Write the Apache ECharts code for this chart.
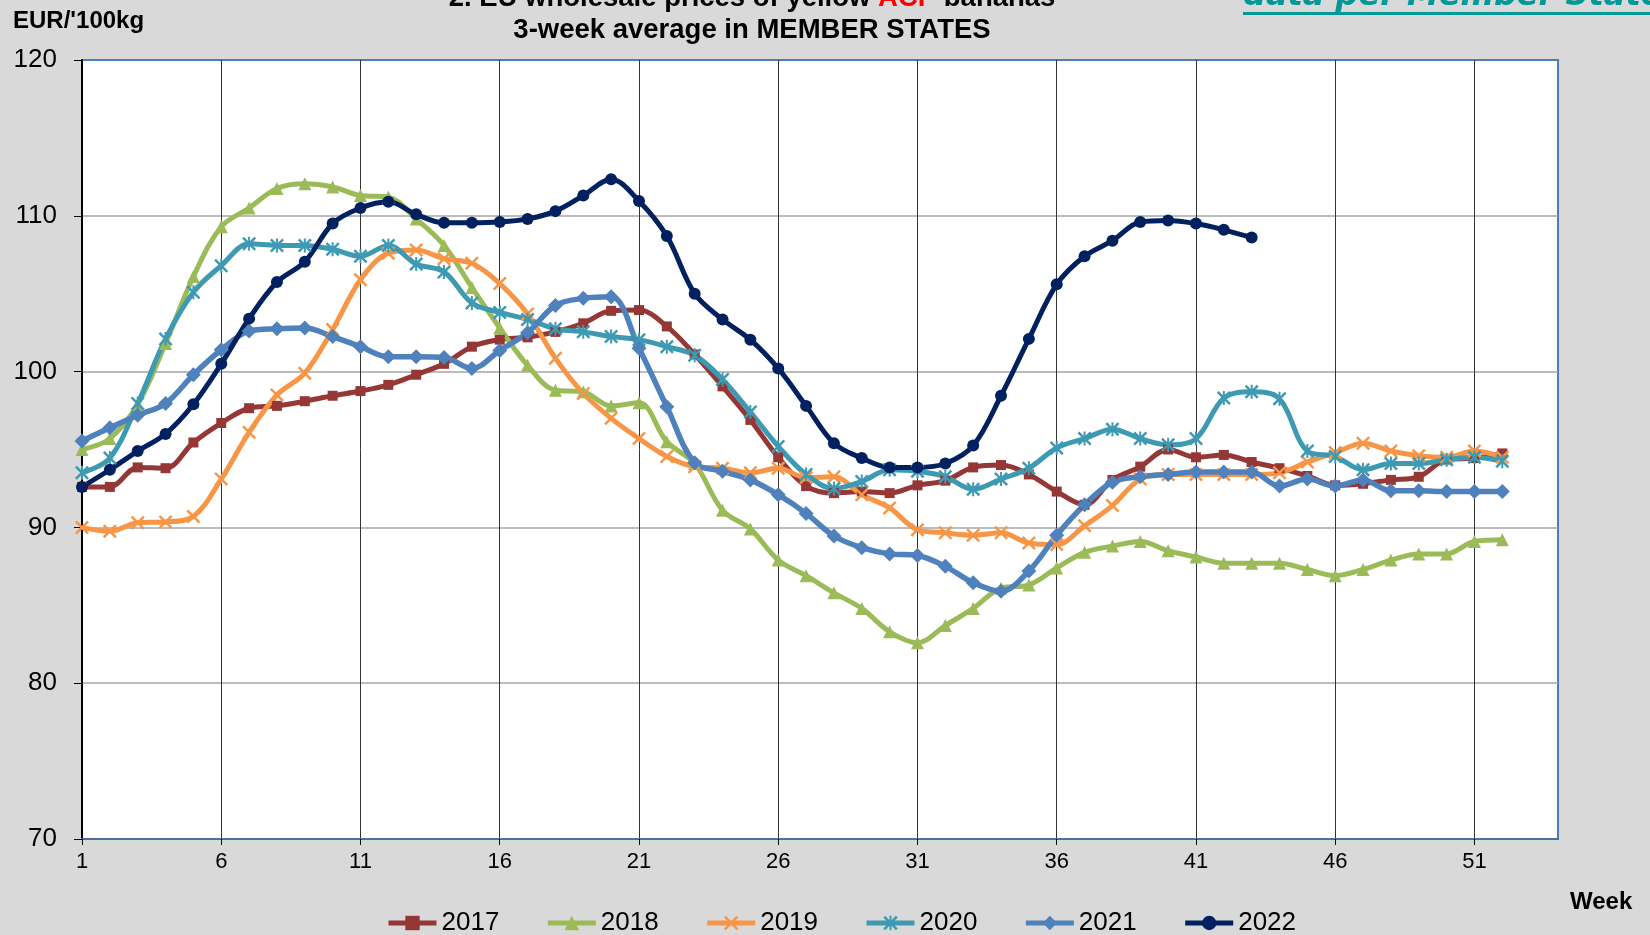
<!DOCTYPE html>
<html>
<head>
<meta charset="utf-8">
<script src="https://cdn.jsdelivr.net/npm/echarts@6/dist/echarts.min.js"></script>
<style>
  html, body { margin: 0; padding: 0; background: #d9d9d9; }
  #chart { width: 1650px; height: 935px; }
</style>
</head>
<body>
<div id="chart"></div>
<script>
// weeks on the x axis (axis runs to 54, data to 52)
const weeks = [
  '1', '2', '3', '4', '5', '6', '7', '8', '9', '10', '11', '12', '13', '14', '15', '16', '17', '18',
  '19', '20', '21', '22', '23', '24', '25', '26', '27', '28', '29', '30', '31', '32', '33', '34', '35', '36',
  '37', '38', '39', '40', '41', '42', '43', '44', '45', '46', '47', '48', '49', '50', '51', '52', '53', '54',
]

// EUR/100kg, 3-week average
const y2017 = [92.6, 92.6, 93.85, 93.8, 95.45, 96.7, 97.65, 97.8, 98.1, 98.45, 98.75, 99.15, 99.8, 100.5, 101.6, 102.05, 102.2, 102.55,
  103.1, 103.9, 103.95, 102.9, 101.1, 99.05, 96.9, 94.5, 92.65, 92.2, 92.3, 92.2, 92.7, 93.0, 93.85, 94.0, 93.4, 92.3,
  91.45, 93.05, 93.9, 95.0, 94.5, 94.65, 94.2, 93.8, 93.3, 92.7, 92.8, 93.05, 93.25, 94.35, 94.45, 94.75]
const y2018 = [95.0, 95.7, 97.9, 101.8, 106.1, 109.3, 110.5, 111.75, 112.05, 111.85, 111.3, 111.2, 109.8, 108.1, 105.4, 102.8, 100.4, 98.8,
  98.7, 97.8, 98.0, 95.5, 94.1, 91.1, 89.9, 87.9, 86.9, 85.8, 84.8, 83.3, 82.6, 83.7, 84.8, 86.1, 86.3, 87.4,
  88.4, 88.8, 89.1, 88.5, 88.1, 87.7, 87.7, 87.7, 87.3, 86.9, 87.3, 87.9, 88.3, 88.3, 89.1, 89.2]
const y2019 = [90.0, 89.75, 90.3, 90.35, 90.7, 93.1, 96.1, 98.5, 99.9, 102.7, 105.9, 107.6, 107.8, 107.25, 106.95, 105.65, 103.7, 100.85,
  98.6, 97.0, 95.7, 94.55, 93.9, 93.8, 93.5, 93.8, 93.2, 93.25, 92.1, 91.25, 89.85, 89.65, 89.5, 89.65, 89.0, 88.9,
  90.1, 91.4, 93.1, 93.4, 93.4, 93.4, 93.4, 93.5, 94.2, 94.8, 95.4, 94.9, 94.6, 94.5, 94.9, 94.5]
const y2020 = [93.5, 94.45, 97.95, 102.1, 105.1, 106.8, 108.2, 108.1, 108.1, 107.85, 107.4, 108.1, 106.9, 106.4, 104.4, 103.8, 103.35, 102.75,
  102.55, 102.25, 102.05, 101.6, 101.05, 99.5, 97.4, 95.2, 93.4, 92.5, 92.95, 93.7, 93.6, 93.25, 92.45, 93.1, 93.8, 95.1,
  95.7, 96.3, 95.7, 95.3, 95.7, 98.3, 98.7, 98.25, 94.9, 94.55, 93.7, 94.1, 94.1, 94.35, 94.5, 94.25]
const y2021 = [95.55, 96.4, 97.2, 97.95, 99.8, 101.4, 102.6, 102.75, 102.8, 102.25, 101.6, 100.95, 100.95, 100.9, 100.2, 101.35, 102.5, 104.25,
  104.7, 104.8, 101.5, 97.75, 94.15, 93.6, 93.05, 92.1, 90.9, 89.45, 88.7, 88.3, 88.2, 87.5, 86.45, 85.9, 87.2, 89.5,
  91.45, 92.9, 93.25, 93.4, 93.55, 93.55, 93.55, 92.65, 93.1, 92.65, 93.05, 92.35, 92.35, 92.3, 92.3, 92.3]
const y2022 = [92.6, 93.7, 94.9, 96.0, 97.9, 100.5, 103.4, 105.75, 107.05, 109.5, 110.5, 110.9, 110.1, 109.55, 109.55, 109.6, 109.8, 110.3,
  111.3, 112.35, 110.95, 108.7, 105.0, 103.35, 102.05, 100.2, 97.8, 95.4, 94.45, 93.85, 93.85, 94.1, 95.25, 98.45, 102.1, 105.6,
  107.4, 108.4, 109.6, 109.7, 109.5, 109.1, 108.6]

const FONT = '"Liberation Sans", Arial, sans-serif'
const crossSymbol = 'path://M0,2.5 L2.5,0 L10,7.5 L17.5,0 L20,2.5 L12.5,10 L20,17.5 L17.5,20 L10,12.5 L2.5,20 L0,17.5 L7.5,10 Z'
const starSymbol = 'path://M0,2.5 L2.5,0 L10,7.5 L17.5,0 L20,2.5 L12.5,10 L20,17.5 L17.5,20 L10,12.5 L2.5,20 L0,17.5 L7.5,10 Z M8.6,0 L11.4,0 L11.4,20 L8.6,20 Z'

const makeSeries = (name, data, color, symbol, symbolSize, width) => ({
  name,
  type: 'line',
  data,
  smooth: 0.35,
  symbol,
  symbolSize,
  showAllSymbol: true,
  color,
  lineStyle: { color, width },
  itemStyle: { color },
  emphasis: { disabled: true },
})

const chart = echarts.init(document.getElementById('chart'))
chart.setOption({
  backgroundColor: '#d9d9d9',
  animation: false,
  textStyle: { fontFamily: FONT },
  grid: {
    left: 82,
    right: 92,
    top: 60,
    bottom: 96,
    show: true,
    backgroundColor: '#fff',
    borderColor: '#4a7ebb',
    borderWidth: 2,
  },
  legend: {
    left: 381,
    top: 905,
    itemWidth: 48,
    itemHeight: 18,
    itemGap: 46,
    lineStyle: { width: 5 },
    textStyle: { fontSize: 26, color: '#000', fontFamily: FONT },
  },
  xAxis: {
    type: 'category',
    data: weeks,
    boundaryGap: false,
    axisLine: { lineStyle: { color: '#4a6f9f', width: 2 } },
    axisTick: { show: true, interval: 4, length: 6, lineStyle: { color: '#000' } },
    axisLabel: { interval: 4, fontSize: 22, color: '#000', margin: 12 },
    splitLine: { show: true, interval: 4, lineStyle: { color: '#333', width: 1 } },
  },
  yAxis: {
    type: 'value',
    min: 70,
    max: 120,
    interval: 10,
    axisLine: { show: true, lineStyle: { color: '#000', width: 2 } },
    axisTick: { show: true, length: 8, lineStyle: { color: '#000' } },
    axisLabel: { fontSize: 26, color: '#000', margin: 25 },
    splitLine: { show: true, showMaxLine: false, showMinLine: false, lineStyle: { color: '#a6a6a6', width: 1.5 } },
  },
  graphic: [
    {
      type: 'text',
      x: 752,
      y: -2,
      style: {
        text: '{a|2. EU wholesale prices of yellow }{r|ACP}{a| bananas}',
        align: 'center',
        verticalAlign: 'middle',
        rich: {
          a: { fontSize: 27.5, fontWeight: 'bold', fontFamily: FONT, fill: '#000' },
          r: { fontSize: 27.5, fontWeight: 'bold', fontFamily: FONT, fill: '#ff0000' },
        },
      },
    },
    {
      type: 'text',
      x: 752,
      y: 30,
      style: {
        text: '3-week average in MEMBER STATES',
        align: 'center',
        verticalAlign: 'middle',
        fontSize: 27.5,
        fontWeight: 'bold',
        fontFamily: FONT,
        fill: '#000',
      },
    },
    {
      type: 'text',
      x: 13,
      y: 21,
      style: {
        text: 'EUR/\'100kg',
        verticalAlign: 'middle',
        fontSize: 24,
        fontWeight: 'bold',
        fontFamily: FONT,
        fill: '#000',
      },
    },
    {
      type: 'text',
      x: 1243,
      y: -3,
      style: {
        text: 'data per Member State',
        verticalAlign: 'middle',
        fontSize: 32,
        fontWeight: 'bold',
        fontStyle: 'italic',
        fontFamily: '"DejaVu Sans", Verdana, sans-serif',
        fill: '#009999',
      },
    },
    {
      type: 'rect',
      shape: { x: 1243, y: 12, width: 420, height: 3 },
      style: { fill: '#009999' },
    },
    {
      type: 'text',
      x: 1570,
      y: 902,
      style: {
        text: 'Week',
        verticalAlign: 'middle',
        fontSize: 24,
        fontWeight: 'bold',
        fontFamily: FONT,
        fill: '#000',
      },
    },
  ],
  series: [
    makeSeries('2017', y2017, '#953735', 'rect', 10, 5),
    makeSeries('2018', y2018, '#9bbb59', 'triangle', 13, 5),
    makeSeries('2019', y2019, '#f79646', crossSymbol, 14, 5),
    makeSeries('2020', y2020, '#3d9ab2', starSymbol, 14, 5),
    makeSeries('2021', y2021, '#4f81bd', 'diamond', 15, 5.5),
    makeSeries('2022', y2022, '#002060', 'circle', 12, 5),
  ],
})

window.addEventListener('resize', () => {
  chart.resize()
})
</script>
</body>
</html>
